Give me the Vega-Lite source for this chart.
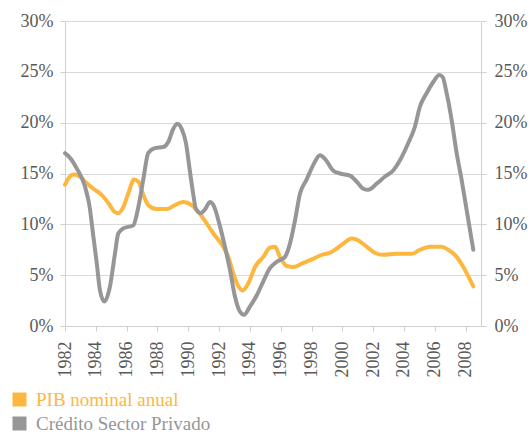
{
  "$schema": "https://vega.github.io/schema/vega-lite/v6.json",
  "width": 416,
  "height": 305,
  "autosize": {"type": "none"},
  "padding": {"left": 65, "top": 21, "right": 51, "bottom": 106},
  "background": "white",
  "config": {
    "view": {"stroke": null},
    "font": "Liberation Serif",
    "axis": {
      "labelFont": "Liberation Serif",
      "labelFontSize": 18,
      "labelColor": "#595959",
      "domainColor": "#d0d0d0",
      "tickColor": "#d0d0d0",
      "gridColor": "#d9d9d9",
      "tickSize": 5,
      "title": null
    }
  },
  "data": {
    "values": [
      {"s": "PIB nominal anual", "t": 1982.0, "v": 13.9},
      {"s": "PIB nominal anual", "t": 1982.22, "v": 14.5},
      {"s": "PIB nominal anual", "t": 1982.54, "v": 14.9},
      {"s": "PIB nominal anual", "t": 1982.86, "v": 14.8},
      {"s": "PIB nominal anual", "t": 1983.3, "v": 14.2},
      {"s": "PIB nominal anual", "t": 1983.84, "v": 13.5},
      {"s": "PIB nominal anual", "t": 1984.38, "v": 12.9},
      {"s": "PIB nominal anual", "t": 1984.81, "v": 12.1},
      {"s": "PIB nominal anual", "t": 1985.24, "v": 11.2},
      {"s": "PIB nominal anual", "t": 1985.46, "v": 11.1},
      {"s": "PIB nominal anual", "t": 1985.78, "v": 11.7},
      {"s": "PIB nominal anual", "t": 1986.1, "v": 13.0},
      {"s": "PIB nominal anual", "t": 1986.48, "v": 14.4},
      {"s": "PIB nominal anual", "t": 1986.76, "v": 14.2},
      {"s": "PIB nominal anual", "t": 1987.08, "v": 12.9},
      {"s": "PIB nominal anual", "t": 1987.4, "v": 11.9},
      {"s": "PIB nominal anual", "t": 1987.95, "v": 11.5},
      {"s": "PIB nominal anual", "t": 1988.6, "v": 11.5},
      {"s": "PIB nominal anual", "t": 1989.14, "v": 11.9},
      {"s": "PIB nominal anual", "t": 1989.68, "v": 12.2},
      {"s": "PIB nominal anual", "t": 1990.22, "v": 11.9},
      {"s": "PIB nominal anual", "t": 1990.87, "v": 10.8},
      {"s": "PIB nominal anual", "t": 1991.63, "v": 9.1},
      {"s": "PIB nominal anual", "t": 1992.27, "v": 7.8},
      {"s": "PIB nominal anual", "t": 1992.6, "v": 6.8},
      {"s": "PIB nominal anual", "t": 1992.92, "v": 5.2},
      {"s": "PIB nominal anual", "t": 1993.25, "v": 3.9},
      {"s": "PIB nominal anual", "t": 1993.53, "v": 3.5},
      {"s": "PIB nominal anual", "t": 1993.9, "v": 4.2},
      {"s": "PIB nominal anual", "t": 1994.33, "v": 5.8},
      {"s": "PIB nominal anual", "t": 1994.87, "v": 6.8},
      {"s": "PIB nominal anual", "t": 1995.3, "v": 7.7},
      {"s": "PIB nominal anual", "t": 1995.63, "v": 7.8},
      {"s": "PIB nominal anual", "t": 1995.95, "v": 6.8},
      {"s": "PIB nominal anual", "t": 1996.39, "v": 5.9},
      {"s": "PIB nominal anual", "t": 1996.82, "v": 5.8},
      {"s": "PIB nominal anual", "t": 1997.47, "v": 6.2},
      {"s": "PIB nominal anual", "t": 1998.1, "v": 6.6},
      {"s": "PIB nominal anual", "t": 1998.66, "v": 7.0},
      {"s": "PIB nominal anual", "t": 1999.2, "v": 7.2},
      {"s": "PIB nominal anual", "t": 1999.52, "v": 7.5},
      {"s": "PIB nominal anual", "t": 2000.06, "v": 8.1},
      {"s": "PIB nominal anual", "t": 2000.6, "v": 8.6},
      {"s": "PIB nominal anual", "t": 2000.93, "v": 8.5},
      {"s": "PIB nominal anual", "t": 2001.58, "v": 7.8},
      {"s": "PIB nominal anual", "t": 2002.1, "v": 7.2},
      {"s": "PIB nominal anual", "t": 2002.66, "v": 7.0},
      {"s": "PIB nominal anual", "t": 2003.52, "v": 7.1},
      {"s": "PIB nominal anual", "t": 2004.5, "v": 7.1},
      {"s": "PIB nominal anual", "t": 2005.04, "v": 7.5},
      {"s": "PIB nominal anual", "t": 2005.69, "v": 7.8},
      {"s": "PIB nominal anual", "t": 2006.44, "v": 7.8},
      {"s": "PIB nominal anual", "t": 2006.87, "v": 7.5},
      {"s": "PIB nominal anual", "t": 2007.42, "v": 6.8},
      {"s": "PIB nominal anual", "t": 2007.85, "v": 5.8},
      {"s": "PIB nominal anual", "t": 2008.5, "v": 3.9},
      {"s": "Crédito Sector Privado", "t": 1982.0, "v": 17.0},
      {"s": "Crédito Sector Privado", "t": 1982.4, "v": 16.4},
      {"s": "Crédito Sector Privado", "t": 1982.76, "v": 15.5},
      {"s": "Crédito Sector Privado", "t": 1983.3, "v": 13.7},
      {"s": "Crédito Sector Privado", "t": 1983.6, "v": 11.7},
      {"s": "Crédito Sector Privado", "t": 1983.84, "v": 8.8},
      {"s": "Crédito Sector Privado", "t": 1984.06, "v": 6.2},
      {"s": "Crédito Sector Privado", "t": 1984.27, "v": 3.5},
      {"s": "Crédito Sector Privado", "t": 1984.55, "v": 2.4},
      {"s": "Crédito Sector Privado", "t": 1984.92, "v": 3.9},
      {"s": "Crédito Sector Privado", "t": 1985.24, "v": 7.1},
      {"s": "Crédito Sector Privado", "t": 1985.46, "v": 9.1},
      {"s": "Crédito Sector Privado", "t": 1985.78, "v": 9.6},
      {"s": "Crédito Sector Privado", "t": 1986.43, "v": 9.9},
      {"s": "Crédito Sector Privado", "t": 1986.76, "v": 11.7},
      {"s": "Crédito Sector Privado", "t": 1987.08, "v": 14.4},
      {"s": "Crédito Sector Privado", "t": 1987.4, "v": 17.0},
      {"s": "Crédito Sector Privado", "t": 1987.84, "v": 17.5},
      {"s": "Crédito Sector Privado", "t": 1988.38, "v": 17.6},
      {"s": "Crédito Sector Privado", "t": 1988.7, "v": 18.1},
      {"s": "Crédito Sector Privado", "t": 1989.03, "v": 19.4},
      {"s": "Crédito Sector Privado", "t": 1989.29, "v": 19.9},
      {"s": "Crédito Sector Privado", "t": 1989.57, "v": 19.4},
      {"s": "Crédito Sector Privado", "t": 1989.85, "v": 18.0},
      {"s": "Crédito Sector Privado", "t": 1990.1, "v": 15.3},
      {"s": "Crédito Sector Privado", "t": 1990.3, "v": 13.2},
      {"s": "Crédito Sector Privado", "t": 1990.5, "v": 11.5},
      {"s": "Crédito Sector Privado", "t": 1990.8, "v": 11.1},
      {"s": "Crédito Sector Privado", "t": 1991.1, "v": 11.5},
      {"s": "Crédito Sector Privado", "t": 1991.41, "v": 12.2},
      {"s": "Crédito Sector Privado", "t": 1991.63, "v": 11.9},
      {"s": "Crédito Sector Privado", "t": 1992.06, "v": 9.8},
      {"s": "Crédito Sector Privado", "t": 1992.38, "v": 7.8},
      {"s": "Crédito Sector Privado", "t": 1992.71, "v": 5.5},
      {"s": "Crédito Sector Privado", "t": 1993.03, "v": 2.9},
      {"s": "Crédito Sector Privado", "t": 1993.36, "v": 1.4},
      {"s": "Crédito Sector Privado", "t": 1993.62, "v": 1.1},
      {"s": "Crédito Sector Privado", "t": 1994.0, "v": 1.9},
      {"s": "Crédito Sector Privado", "t": 1994.44, "v": 3.0},
      {"s": "Crédito Sector Privado", "t": 1994.87, "v": 4.4},
      {"s": "Crédito Sector Privado", "t": 1995.3, "v": 5.7},
      {"s": "Crédito Sector Privado", "t": 1995.73, "v": 6.3},
      {"s": "Crédito Sector Privado", "t": 1996.28, "v": 6.8},
      {"s": "Crédito Sector Privado", "t": 1996.6, "v": 8.1},
      {"s": "Crédito Sector Privado", "t": 1996.93, "v": 10.4},
      {"s": "Crédito Sector Privado", "t": 1997.25, "v": 13.0},
      {"s": "Crédito Sector Privado", "t": 1997.68, "v": 14.4},
      {"s": "Crédito Sector Privado", "t": 1998.1, "v": 15.8},
      {"s": "Crédito Sector Privado", "t": 1998.55, "v": 16.8},
      {"s": "Crédito Sector Privado", "t": 1998.9, "v": 16.4},
      {"s": "Crédito Sector Privado", "t": 1999.4, "v": 15.3},
      {"s": "Crédito Sector Privado", "t": 1999.85, "v": 15.0},
      {"s": "Crédito Sector Privado", "t": 2000.5, "v": 14.8},
      {"s": "Crédito Sector Privado", "t": 2000.93, "v": 14.2},
      {"s": "Crédito Sector Privado", "t": 2001.36, "v": 13.5},
      {"s": "Crédito Sector Privado", "t": 2001.68, "v": 13.4},
      {"s": "Crédito Sector Privado", "t": 2002.23, "v": 14.0},
      {"s": "Crédito Sector Privado", "t": 2002.77, "v": 14.7},
      {"s": "Crédito Sector Privado", "t": 2003.3, "v": 15.3},
      {"s": "Crédito Sector Privado", "t": 2003.74, "v": 16.3},
      {"s": "Crédito Sector Privado", "t": 2004.28, "v": 18.0},
      {"s": "Crédito Sector Privado", "t": 2004.71, "v": 19.6},
      {"s": "Crédito Sector Privado", "t": 2005.04, "v": 21.6},
      {"s": "Crédito Sector Privado", "t": 2005.47, "v": 22.9},
      {"s": "Crédito Sector Privado", "t": 2005.9, "v": 24.0},
      {"s": "Crédito Sector Privado", "t": 2006.29, "v": 24.7},
      {"s": "Crédito Sector Privado", "t": 2006.51, "v": 24.5},
      {"s": "Crédito Sector Privado", "t": 2006.77, "v": 22.9},
      {"s": "Crédito Sector Privado", "t": 2007.09, "v": 20.3},
      {"s": "Crédito Sector Privado", "t": 2007.42, "v": 17.0},
      {"s": "Crédito Sector Privado", "t": 2007.74, "v": 14.4},
      {"s": "Crédito Sector Privado", "t": 2008.07, "v": 11.4},
      {"s": "Crédito Sector Privado", "t": 2008.5, "v": 7.5}
    ]
  },
  "encoding": {
    "x": {
      "field": "t",
      "type": "quantitative",
      "scale": {"domain": [1982, 2009], "nice": false, "zero": false},
      "axis": {
        "values": [1982, 1984, 1986, 1988, 1990, 1992, 1994, 1996, 1998, 2000, 2002, 2004, 2006, 2008],
        "format": "d",
        "labelAngle": -90,
        "labelPadding": 10,
        "grid": false,
        "domainColor": "#d0d0d0"
      }
    },
    "color": {
      "field": "s",
      "type": "nominal",
      "scale": {
        "domain": ["PIB nominal anual", "Crédito Sector Privado"],
        "range": ["#FDB73E", "#969696"]
      },
      "legend": {
        "title": null,
        "orient": "none",
        "legendX": -55,
        "legendY": 369,
        "symbolType": "square",
        "symbolSize": 196,
        "symbolStrokeWidth": 0,
        "symbolOpacity": 1,
        "symbolFillColor": {"expr": "datum.value == 'PIB nominal anual' ? '#FDB73E' : '#969696'"},
        "labelFont": "Liberation Serif",
        "labelFontSize": 19,
        "labelOffset": 7,
        "labelLimit": 400,
        "rowPadding": 4,
        "labelColor": {"expr": "datum.value == 'PIB nominal anual' ? '#FDB73E' : '#969696'"}
      }
    }
  },
  "layer": [
    {
      "transform": [{"filter": "datum.s == 'PIB nominal anual'"}],
      "mark": {"type": "line", "strokeWidth": 4, "interpolate": "monotone", "strokeCap": "round"},
      "encoding": {
        "y": {
          "field": "v",
          "type": "quantitative",
          "scale": {"domain": [0, 30], "nice": false},
          "axis": {
            "orient": "left",
            "values": [0, 5, 10, 15, 20, 25, 30],
            "labelExpr": "datum.value + '%'",
            "labelPadding": 7,
            "grid": true
          }
        }
      }
    },
    {
      "transform": [{"filter": "datum.s == 'Crédito Sector Privado'"}],
      "mark": {"type": "line", "strokeWidth": 4, "interpolate": "monotone", "strokeCap": "round"},
      "encoding": {
        "y": {
          "field": "v",
          "type": "quantitative",
          "scale": {"domain": [0, 30], "nice": false},
          "axis": {
            "orient": "right",
            "values": [0, 5, 10, 15, 20, 25, 30],
            "labelExpr": "datum.value + '%'",
            "labelPadding": 8,
            "grid": false
          }
        }
      }
    }
  ],
  "resolve": {"scale": {"y": "independent"}, "axis": {"y": "independent"}}
}
